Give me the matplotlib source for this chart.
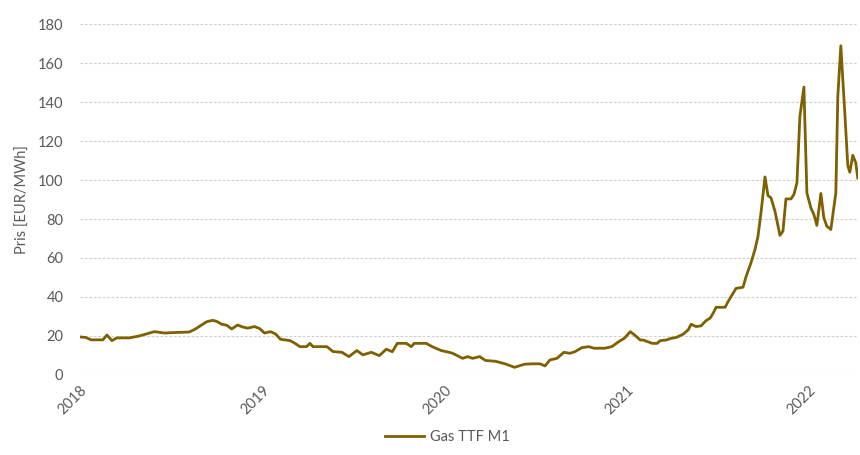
import matplotlib
matplotlib.use("Agg")
import matplotlib.pyplot as plt
import matplotlib.dates as mdates
import pandas as pd

plt.rcParams["font.family"] = ["Lato", "DejaVu Sans"]

# Weekly front-month TTF gas price, EUR/MWh
dates = [
    "2018-01-01", "2018-01-13", "2018-01-23", "2018-02-16", "2018-02-24", "2018-03-06",
    "2018-03-16", "2018-04-10", "2018-04-30", "2018-05-20", "2018-05-30", "2018-06-19",
    "2018-07-15", "2018-08-08", "2018-08-20", "2018-09-01", "2018-09-12", "2018-09-24",
    "2018-10-02", "2018-10-12", "2018-10-22", "2018-11-01", "2018-11-13", "2018-11-23",
    "2018-12-03", "2018-12-17", "2018-12-27", "2019-01-06", "2019-01-18", "2019-01-28",
    "2019-02-07", "2019-02-26", "2019-03-08", "2019-03-18", "2019-03-31", "2019-04-07",
    "2019-04-13", "2019-05-11", "2019-05-23", "2019-06-10", "2019-06-24", "2019-07-10",
    "2019-07-22", "2019-08-08", "2019-08-24", "2019-09-07", "2019-09-19", "2019-09-29",
    "2019-10-17", "2019-10-27", "2019-11-02", "2019-11-26", "2019-12-08", "2019-12-26",
    "2020-01-11", "2020-01-18", "2020-02-07", "2020-02-17", "2020-02-27", "2020-03-12",
    "2020-03-24", "2020-04-13", "2020-05-03", "2020-05-21", "2020-06-10", "2020-06-26",
    "2020-07-11", "2020-07-21", "2020-07-31", "2020-08-14", "2020-08-28", "2020-09-09",
    "2020-09-19", "2020-10-03", "2020-10-17", "2020-10-27", "2020-11-18", "2020-12-02",
    "2020-12-16", "2020-12-27", "2021-01-08", "2021-01-18", "2021-01-28", "2021-02-03",
    "2021-02-21", "2021-03-03", "2021-03-09", "2021-03-21", "2021-03-31", "2021-04-10",
    "2021-04-24", "2021-05-04", "2021-05-10", "2021-05-20", "2021-05-30", "2021-06-09",
    "2021-06-17", "2021-06-23", "2021-06-29", "2021-07-17", "2021-07-23", "2021-07-29",
    "2021-08-08", "2021-08-22", "2021-08-28", "2021-09-07", "2021-09-15", "2021-09-21",
    "2021-09-27", "2021-10-05", "2021-10-11", "2021-10-17", "2021-10-25", "2021-11-04",
    "2021-11-10", "2021-11-16", "2021-11-26", "2021-12-02", "2021-12-08", "2021-12-14",
    "2021-12-22", "2021-12-28", "2022-01-05", "2022-01-11", "2022-01-17", "2022-01-25",
    "2022-01-31", "2022-02-06", "2022-02-14", "2022-02-24", "2022-02-28", "2022-03-06",
    "2022-03-14", "2022-03-20", "2022-03-24", "2022-03-30", "2022-04-05", "2022-04-09",
]
prices = [
    19.5, 19.2, 18.0, 18.0, 20.5, 17.6,
    19.0, 19.0, 20.0, 21.5, 22.2, 21.5,
    21.8, 22.0, 23.5, 25.5, 27.3, 28.0,
    27.5, 26.0, 25.5, 23.6, 25.6, 24.6,
    24.0, 24.8, 23.8, 21.5, 22.2, 21.0,
    18.3, 17.6, 16.2, 14.5, 14.5, 16.2,
    14.5, 14.5, 12.0, 11.6, 9.4, 12.5,
    10.3, 11.6, 9.9, 13.2, 11.9, 16.2,
    16.2, 14.5, 16.2, 16.2, 14.5, 12.5,
    11.6, 11.1, 8.5, 9.4, 8.5, 9.4,
    7.4, 7.0, 5.6, 3.9, 5.5, 5.7,
    5.7, 4.6, 7.7, 8.5, 11.6, 11.1,
    11.9, 14.0, 14.5, 13.7, 13.7, 14.5,
    17.1, 18.8, 22.2, 20.2, 17.9, 17.9,
    16.2, 16.2, 17.6, 17.9, 18.8, 19.2,
    20.9, 23.1, 26.0, 24.8, 25.2, 27.9,
    29.1, 31.6, 34.7, 34.7, 37.6, 40.2,
    44.4, 45.0, 50.4, 57.6, 64.4, 71.2,
    83.2, 101.6, 92.0, 90.9, 84.0, 71.6,
    73.8, 90.3, 90.3, 92.6, 98.5, 132.7,
    147.7, 93.4, 85.7, 82.3, 76.7, 93.1,
    80.6, 76.3, 74.6, 93.4, 142.9, 168.9,
    134.4, 107.4, 104.0, 112.7, 108.8, 101.0,
]
series_label = "Gas TTF M1"
year_ticks = ["2018", "2019", "2020", "2021", "2022"]
y_ticks = list(range(0, 181, 20))

x = pd.to_datetime(dates)

fig = plt.figure(figsize=(8.6, 4.55), dpi=100)
ax = fig.add_axes([0.093, 0.176, 0.905, 0.771])

ax.plot(x, prices, color="#7f6000", lw=2.0, label=series_label,
        solid_joinstyle="round", zorder=3)

ax.set_ylim(0, 180)
ax.set_xlim(pd.Timestamp("2018-01-01"), pd.Timestamp("2022-04-10"))
ax.set_yticks(y_ticks)
ax.set_xticks(pd.to_datetime([y + "-01-01" for y in year_ticks]))
ax.set_xticklabels(year_ticks, rotation=45, ha="right", va="top",
                   rotation_mode="anchor")

ax.grid(axis="y", color="#d0d0d0", linestyle=(0, (2.5, 1.5)), lw=0.8)
ax.set_axisbelow(True)
for s in ax.spines.values():
    s.set_visible(False)
ax.tick_params(axis="both", length=0, labelsize=10.5, colors="#595959")
ax.tick_params(axis="y", pad=12)
ax.tick_params(axis="x", pad=6)

ax.set_ylabel("Pris [EUR/MWh]", fontsize=10.5, color="#595959", labelpad=6)

fig.legend(loc="lower center", bbox_to_anchor=(0.52, -0.005), frameon=False,
           fontsize=10.5, handlelength=2.7, handletextpad=0.4,
           labelcolor="#595959")

fig.savefig("out.png", dpi=100, facecolor="white")
